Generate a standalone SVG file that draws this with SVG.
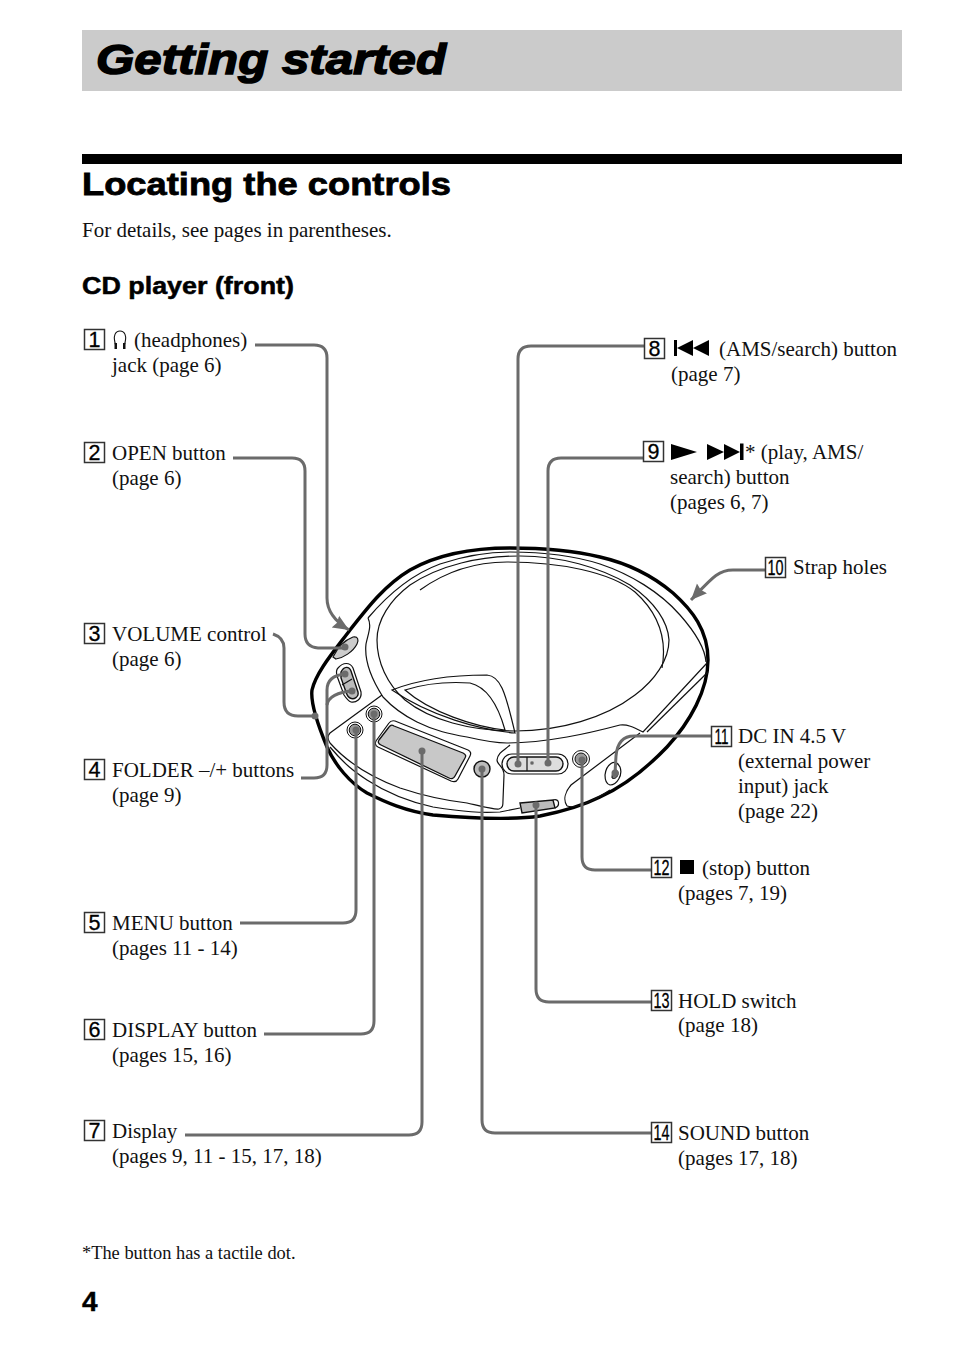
<svg xmlns="http://www.w3.org/2000/svg" width="954" height="1357" viewBox="0 0 954 1357">
<style>
text{font-family:"Liberation Serif","Times New Roman",serif;font-size:21px;fill:#111}
.h{font-family:"Liberation Sans",Arial,sans-serif;font-weight:bold;stroke:#000}
.n{font-family:"Liberation Sans",Arial,sans-serif;font-size:21.500px;text-anchor:middle;fill:#000;stroke:#000;stroke-width:0.3}
.b{fill:#fff;stroke:#333;stroke-width:1.500}
.c{fill:none;stroke:#6b6b6b;stroke-width:3}
.d{fill:#6b6b6b}
.t{fill:none;stroke:#111;stroke-width:1.2}
.g{fill:#c8c8c8;stroke:#111;stroke-width:1.3}
</style>
<defs>
<marker id="arrow" markerUnits="userSpaceOnUse" markerWidth="20" markerHeight="18" refX="16" refY="8" orient="auto"><path d="M0 1L16 8L0 15L2 8Z" fill="#6b6b6b"/></marker>
</defs>
<rect width="954" height="1357" fill="#fff"/>
<g id="header">
<rect x="82" y="30" width="820" height="61" fill="#cbcbcb"/>
<text class="h" x="96" y="74" font-style="italic" stroke-width="1.500" textLength="350" lengthAdjust="spacingAndGlyphs" style="font-size:43px;fill:#000">Getting started</text>
<rect x="82" y="154" width="820" height="10" fill="#000"/>
<text class="h" x="82" y="195" stroke-width="0.8" textLength="369" lengthAdjust="spacingAndGlyphs" style="font-size:32px;fill:#000">Locating the controls</text>
<text x="82" y="237">For details, see pages in parentheses.</text>
<text class="h" x="82" y="294" stroke-width="0.5" textLength="212" lengthAdjust="spacingAndGlyphs" style="font-size:23px;fill:#000">CD player (front)</text>
</g>
<g id="device">
<path d="M312 690C316 672 335 650 350 630C368 607 385 585 410 570C440 553 475 548 510 548C545 548 575 551 600 557C635 565 660 582 673 593C692 610 708 630 708 660C708 690 690 722 667 747C645 770 620 788 600 797C580 807 560 812 540 816C520 819 480 819 433 815C405 811 385 802 367 793C350 783 335 765 327 747C322 735 310 705 312 690Z" fill="#fff" stroke="#000" stroke-width="3.400"/>
<path d="M368 618C372 626 368 634 366 644C364 662 372 680 383 697C395 710 405 716 417 722C435 731 450 734 467 737C480 740 495 743 507 743C530 743 550 740 567 737C590 733 605 729 620 725C627 724 633 727 643 732L707 663" class="t"/>
<path d="M647 732L708 672" class="t"/>
<path d="M368 618C385 598 410 575 440 564C470 554 490 552 510 552C545 552 575 556 600 564C630 574 660 592 680 615C695 632 705 648 706 662" class="t"/>
<path d="M377 640C377 620 390 600 410 585C440 565 480 556 520 556C560 556 600 567 630 585C655 602 668 622 669 640C669 660 655 680 635 695C605 718 560 731 515 731C470 731 430 720 405 700C387 684 377 662 377 640Z" class="t"/>
<path d="M420 590C445 572 475 562 507 562C560 562 610 572 635 592C655 610 668 635 662 668" class="t"/>
<path d="M392 690C425 677 460 675 487 675C500 676 505 690 515 733C480 730 430 716 392 690Z" class="t"/>
<path d="M405 690C430 682 455 682 470 683C487 687 498 705 505 730C475 727 430 712 405 690Z" class="t"/>
<path d="M382 695L330 733C327 736 328 740 330 743C345 760 365 775 400 788C430 798 450 801 467 803C480 806 495 810 499 809C503 808 503 805 503 800L504 775C504 766 497 765 497 760C498 752 505 750 510 745" class="t"/>
<path d="M330 747C345 765 355 772 367 780C390 795 410 802 433 807C465 812 480 813 500 812L520 808" class="t"/>
<path d="M395 721L468 750Q472 752 470 756L458 779Q456 783 451 781L378 747Q374 745 376 741L389 723Q391 720 395 721Z" class="t"/>
<path d="M394 726L463 753Q467 755 465 758L455 776Q453 780 449 778L381 745Q377 743 379 740L389 727Q391 724 394 726Z" class="g"/>
<path d="M333 657C338 647 345 640 353 637C358 636 359 640 357 644C353 652 343 658 336 659Z" fill="#ccc" stroke="#111" stroke-width="1.200"/>
<path d="M338 668C343 662 350 662 353 668L361 692C362 699 356 703 351 702C348 701 346 698 344 695L337 676C336 672 336 670 338 668Z" class="t"/>
<path d="M341 672C344 666 349 666 351 671L358 692C359 697 354 700 350 698C348 697 347 695 346 692L341 678Z" fill="#bbb" stroke="#111" stroke-width="1.400"/>
<path d="M342 685L352 679" class="t"/>
<circle cx="355" cy="730" r="8" fill="#fff" stroke="#111"/><circle cx="355" cy="730" r="5.800" fill="#999" stroke="#111"/>
<circle cx="374" cy="714" r="8" fill="#fff" stroke="#111"/><circle cx="374" cy="714" r="5.800" fill="#999" stroke="#111"/>
<circle cx="482" cy="769" r="8" fill="#bbb" stroke="#111" stroke-width="1.400"/>
<circle cx="581" cy="759" r="8.500" fill="#fff" stroke="#111"/><circle cx="581" cy="759" r="6" fill="#999" stroke="#111"/>
<rect x="502" y="754" width="66" height="20" rx="10" fill="#fff" stroke="#111" stroke-width="1.200"/>
<rect x="507" y="757" width="56" height="14" rx="7" fill="#ddd" stroke="#111" stroke-width="1.400"/>
<path d="M527 757V771" class="t"/>
<rect x="531" y="762" width="2" height="2" fill="none" stroke="#111" stroke-width="0.7"/>
<path d="M520 803L553 800L555 808L522 813Z" fill="#bbb" stroke="#111" stroke-width="1.400"/>
<path d="M553 800C560 798 560 806 555 808" class="t"/>
<path d="M567 806C563 800 565 792 571 785L640 733" class="t"/>
<path d="M567 806C575 809 590 803 610 790" class="t"/>
<path d="M605 775C606 765 615 757 620 767C623 775 617 785 610 785C606 784 605 780 605 775Z" class="t"/>
<path d="M612 777C612 772 616 767 618 772C619 776 615 780 612 778Z" fill="#777" stroke="#111"/>
</g>
<g id="connectors">
<path class="c" marker-end="url(#arrow)" d="M255 345H314Q327 345 327 358V598C327 612 336 622 349 630"/>
<path class="c" d="M233 458H292Q305 458 305 471V634Q305 647 318 648H345"/>
<circle class="d" cx="345" cy="647" r="3.500"/>
<path class="c" d="M273 634C279 636 284 640 284 648V702Q284 716 298 716H315"/>
<circle class="d" cx="315" cy="716" r="3.500"/>
<path class="c" d="M301 778H314Q327 778 327 765V690C327 680 334 675 345 674"/>
<path class="c" d="M327 705C328 697 338 692 352 691"/>
<circle class="d" cx="345" cy="674" r="3.500"/><circle class="d" cx="352" cy="691" r="3.500"/>
<path class="c" d="M240 923H343Q356 923 356 910V730"/>
<circle class="d" cx="356" cy="730" r="3.500"/>
<path class="c" d="M264 1034H361Q374 1034 374 1021V714"/>
<circle class="d" cx="374" cy="714" r="3.500"/>
<path class="c" d="M185 1135H409Q422 1135 422 1122V751"/>
<circle class="d" cx="422" cy="751" r="3.500"/>
<path class="c" d="M644 346H531Q518 346 518 359V764"/>
<circle class="d" cx="518" cy="764" r="3.500"/>
<path class="c" d="M643 458H561Q548 458 548 471V762"/>
<circle class="d" cx="548" cy="763" r="3.500"/>
<path class="c" marker-end="url(#arrow)" d="M765 570H733C718 570 712 578 691 600"/>
<path class="c" d="M711 736H634C622 736 617 745 616 756L615 773"/>
<circle class="d" cx="615" cy="773" r="3.500"/>
<path class="c" d="M651 870H595Q582 870 582 857V760"/>
<circle class="d" cx="582" cy="760" r="3.500"/>
<path class="c" d="M651 1002H549Q536 1002 536 989V805"/>
<circle class="d" cx="536" cy="805" r="3.500"/>
<path class="c" d="M651 1133H495Q482 1133 482 1120V769"/>
<circle class="d" cx="482" cy="769" r="3.500"/>
</g>
<g id="item1"><rect class="b" x="84.500" y="329.500" width="20" height="20"/><text class="n" x="94.500" y="347">1</text>
<path d="M116 346C112 335 116 331 120 331C124 331 128 335 124 346" fill="none" stroke="#111" stroke-width="1.100"/><rect x="114.500" y="343" width="2.500" height="6" fill="#111"/><rect x="123" y="343" width="2.500" height="6" fill="#111"/>
<text x="134" y="347">(headphones)</text><text x="112" y="372">jack (page 6)</text></g>
<g id="item2"><rect class="b" x="84.500" y="442.500" width="20" height="20"/><text class="n" x="94.500" y="460">2</text><text x="112" y="460">OPEN button</text><text x="112" y="485">(page 6)</text></g>
<g id="item3"><rect class="b" x="84.500" y="623.500" width="20" height="20"/><text class="n" x="94.500" y="641">3</text><text x="112" y="641">VOLUME control</text><text x="112" y="666">(page 6)</text></g>
<g id="item4"><rect class="b" x="84.500" y="759.500" width="20" height="20"/><text class="n" x="94.500" y="777">4</text><text x="112" y="777">FOLDER –/+ buttons</text><text x="112" y="802">(page 9)</text></g>
<g id="item5"><rect class="b" x="84.500" y="912.500" width="20" height="20"/><text class="n" x="94.500" y="930">5</text><text x="112" y="930">MENU button</text><text x="112" y="955">(pages 11 - 14)</text></g>
<g id="item6"><rect class="b" x="84.500" y="1019.500" width="20" height="20"/><text class="n" x="94.500" y="1037">6</text><text x="112" y="1037">DISPLAY button</text><text x="112" y="1062">(pages 15, 16)</text></g>
<g id="item7"><rect class="b" x="84.500" y="1120.500" width="20" height="20"/><text class="n" x="94.500" y="1138">7</text><text x="112" y="1138">Display</text><text x="112" y="1163">(pages 9, 11 - 15, 17, 18)</text></g>
<g id="item8"><rect class="b" x="644.500" y="338.500" width="20" height="20"/><text class="n" x="654.500" y="356">8</text>
<path d="M674 340H677V356H674ZM677 348L693 340V356ZM693 348L709 340V356Z" fill="#000"/>
<text x="719" y="356">(AMS/search) button</text><text x="671" y="381">(page 7)</text></g>
<g id="item9"><rect class="b" x="643.500" y="441.500" width="20" height="20"/><text class="n" x="653.500" y="459">9</text>
<path d="M671 444L697 452L671 460ZM707 444L724 452L707 460ZM724 444L740 452L724 460ZM740 443.500H743.500V460H740Z" fill="#000"/>
<text x="745" y="459">* (play, AMS/</text><text x="670" y="484">search) button</text><text x="670" y="509">(pages 6, 7)</text></g>
<g id="item10"><rect class="b" x="765.500" y="557.500" width="20" height="20"/><text class="n" x="775.500" y="575" textLength="16" lengthAdjust="spacingAndGlyphs">10</text><text x="793" y="574">Strap holes</text></g>
<g id="item11"><rect class="b" x="711.500" y="726.500" width="20" height="20"/><text class="n" x="721.500" y="744" textLength="14" lengthAdjust="spacingAndGlyphs">11</text><text x="738" y="743">DC IN 4.5 V</text><text x="738" y="768">(external power</text><text x="738" y="793">input) jack</text><text x="738" y="818">(page 22)</text></g>
<g id="item12"><rect class="b" x="651.500" y="857.500" width="20" height="20"/><text class="n" x="661.500" y="875" textLength="16" lengthAdjust="spacingAndGlyphs">12</text><rect x="680" y="860" width="14" height="14" fill="#000"/><text x="702" y="875">(stop) button</text><text x="678" y="900">(pages 7, 19)</text></g>
<g id="item13"><rect class="b" x="651.500" y="990.500" width="20" height="20"/><text class="n" x="661.500" y="1008" textLength="16" lengthAdjust="spacingAndGlyphs">13</text><text x="678" y="1008">HOLD switch</text><text x="678" y="1032">(page 18)</text></g>
<g id="item14"><rect class="b" x="651.500" y="1122.500" width="20" height="20"/><text class="n" x="661.500" y="1140" textLength="16" lengthAdjust="spacingAndGlyphs">14</text><text x="678" y="1140">SOUND button</text><text x="678" y="1165">(pages 17, 18)</text></g>
<g id="footer">
<text x="82" y="1259" style="font-size:18.400px">*The button has a tactile dot.</text>
<text x="82" y="1311" class="h" stroke-width="0.4" style="font-size:28px;fill:#000">4</text>
</g>
</svg>
